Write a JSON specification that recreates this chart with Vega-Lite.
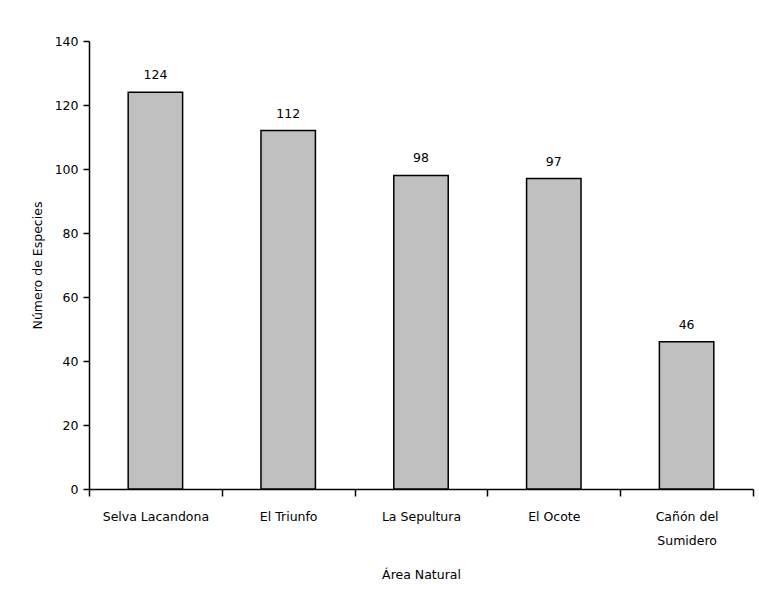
{
  "$schema": "https://vega.github.io/schema/vega-lite/v6.json",
  "width": 664,
  "height": 448,
  "autosize": {"type": "none"},
  "padding": {"left": 89, "top": 41, "right": 6, "bottom": 119},
  "background": "white",
  "config": {
    "view": {"stroke": null},
    "font": "DejaVu Sans",
    "axis": {"labelFont": "DejaVu Sans", "titleFont": "DejaVu Sans", "labelColor": "black", "titleColor": "black", "domainColor": "black", "tickColor": "black", "labelFontSize": 12.5, "titleFontSize": 12.5, "titleFontWeight": "normal", "domainWidth": 1.5, "tickWidth": 1.5, "grid": false, "ticks": true}
  },
  "data": {
    "values": [
      {"area": "Selva Lacandona", "especies": 124},
      {"area": "El Triunfo", "especies": 112},
      {"area": "La Sepultura", "especies": 98},
      {"area": "El Ocote", "especies": 97},
      {"area": "Cañón del Sumidero", "especies": 46}
    ]
  },
  "encoding": {
    "x": {
      "field": "area",
      "type": "nominal",
      "sort": null,
      "scale": {"paddingInner": 0, "paddingOuter": 0},
      "axis": {
        "title": "Área Natural",
        "labelAngle": 0,
        "ticks": true,
        "tickBand": "extent",
        "tickExtra": true,
        "tickSize": 7,
        "labelPadding": 14,
        "labelLineHeight": 24,
        "labelBaseline": "top",
        "titlePadding": 22,
        "labelExpr": "datum.label == 'Cañón del Sumidero' ? ['Cañón del', 'Sumidero'] : datum.label"
      }
    },
    "y": {
      "field": "especies",
      "type": "quantitative",
      "scale": {"domain": [0, 140], "nice": false},
      "axis": {"title": "Número de Especies", "values": [0, 20, 40, 60, 80, 100, 120, 140], "tickSize": 6, "labelPadding": 5, "titlePadding": 10}
    }
  },
  "layer": [
    {"mark": {"type": "bar", "fill": "#c0c0c0", "stroke": "black", "strokeWidth": 1.5, "width": {"band": 0.41}}},
    {"mark": {"type": "text", "baseline": "bottom", "dy": -10, "fontSize": 12.5, "font": "DejaVu Sans", "color": "black"}, "encoding": {"text": {"field": "especies", "type": "quantitative"}}}
  ]
}
